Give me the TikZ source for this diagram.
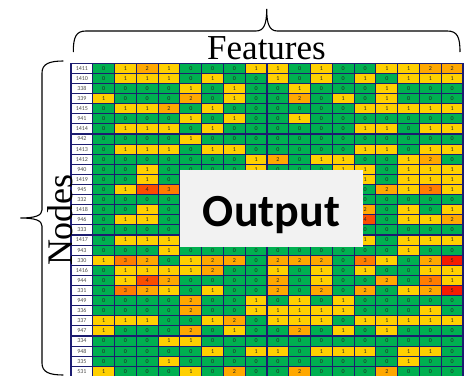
\documentclass[tikz,border=0pt]{standalone}
\usepackage{fontspec}
\setmainfont{Liberation Serif}
\newfontfamily\calibri{Carlito}
% heat-map palette for the cell values 0..5
\definecolor{cv0}{RGB}{0,176,80}
\definecolor{cv1}{RGB}{255,208,0}
\definecolor{cv2}{RGB}{255,168,0}
\definecolor{cv3}{RGB}{255,125,0}
\definecolor{cv4}{RGB}{250,78,0}
\definecolor{cv5}{RGB}{245,28,0}
\definecolor{gridnavy}{RGB}{28,28,112}
\definecolor{outbg}{RGB}{242,242,242}
\begin{document}
\begin{tikzpicture}[x=1pt,y=-1pt,
  cell/.style={draw=gridnavy,line width=1.1pt,minimum width=21.78pt,
    minimum height=10.1pt,inner sep=0pt,
    font=\calibri\fontsize{6}{6}\selectfont,text=black!85},
  idcell/.style={cell,fill=white,text=black!70},
  bracepath/.style={draw=black,line width=1.1pt},
  bigserif/.style={font=\fontsize{35}{40}\selectfont}
]
\useasboundingbox (0,0) rectangle (471,375);

% table: node id followed by 17 feature values
\foreach \lab/\vals [count=\i from 0] in {
  1411/{0,1,2,1,0,0,0,1,1,0,1,0,0,1,1,2,2},
  1410/{0,1,1,1,0,1,0,0,1,0,1,0,1,0,1,1,1},
  338/{0,0,0,0,1,0,1,0,0,1,0,0,0,1,0,0,0},
  339/{1,0,0,0,2,0,1,0,0,2,0,1,0,1,0,0,0},
  1415/{0,1,1,2,0,1,0,0,0,0,0,0,1,1,1,1,1},
  941/{0,0,0,0,1,0,1,0,0,1,0,0,0,0,0,0,0},
  1414/{0,1,1,1,0,1,0,0,0,0,0,0,1,1,0,1,1},
  942/{0,0,0,0,1,0,0,0,0,0,0,0,0,0,0,0,0},
  1413/{0,1,1,1,0,1,1,0,0,0,0,0,1,1,0,1,1},
  1412/{0,0,0,0,0,0,0,1,2,0,1,1,0,0,1,2,0},
  940/{0,0,1,0,0,0,0,1,0,0,0,1,1,0,1,1,1},
  1419/{0,0,1,0,0,0,0,0,0,0,0,0,1,0,1,1,1},
  945/{0,1,4,3,0,0,0,0,0,0,0,0,0,2,1,3,1},
  332/{0,0,0,0,0,0,0,0,0,0,0,0,0,0,0,0,0},
  1418/{0,0,1,0,0,0,0,0,0,0,0,0,2,0,1,0,1},
  946/{0,1,1,0,0,0,0,0,0,0,0,0,4,0,1,1,2},
  333/{0,0,0,0,0,0,0,0,0,0,0,0,0,0,0,0,0},
  1417/{0,1,1,1,0,0,0,0,0,0,0,0,1,0,1,1,1},
  943/{0,0,0,1,0,0,0,0,0,0,0,0,0,0,1,0,0},
  330/{1,3,2,0,1,2,2,0,2,2,2,0,3,1,0,2,5},
  1416/{0,1,1,1,1,2,0,0,1,0,1,0,1,0,0,1,1},
  944/{0,1,4,2,0,0,0,0,2,0,1,0,0,2,0,3,1},
  331/{0,3,2,1,0,1,0,0,2,0,2,0,2,0,1,2,5},
  949/{0,0,0,0,2,0,0,1,0,1,0,1,0,0,0,0,0},
  336/{0,0,0,0,2,0,0,1,1,1,1,1,0,0,0,1,0},
  337/{1,1,1,0,0,1,2,0,1,1,1,0,1,1,1,1,1},
  947/{1,0,0,0,2,0,1,0,0,2,0,1,0,1,0,0,0},
  334/{0,0,0,1,1,0,0,0,0,0,0,0,0,0,0,0,0},
  948/{0,0,0,0,0,1,0,1,1,0,1,1,1,0,1,1,0},
  335/{0,0,0,1,0,0,0,0,0,0,0,0,0,0,1,0,0},
  531/{1,0,0,0,1,0,2,0,0,2,0,0,0,2,0,0,0}} {
  \pgfmathsetmacro\yc{68.3+\i*10.1}
  \node[idcell] (id\i) at (81.89,\yc) {\lab};
  \foreach \v [count=\j] in \vals {
    % cells lying wholly under the output panel carry no digit
    \pgfmathtruncatemacro\hid{and(and(\i>10,\i<18),and(\j>4,\j<13))}
    \ifnum\hid=1
      \node[cell,fill=cv\v] (c\i-\j) at ({71+(\j+0.5)*21.78},\yc) {};
    \else
      \node[cell,fill=cv\v] (c\i-\j) at ({71+(\j+0.5)*21.78},\yc) {\v};
    \fi
  }
}

% output panel laid over the table
\fill[outbg] (180,170) rectangle (363,247);
\node[font=\calibri\bfseries\fontsize{46}{50}\selectfont,anchor=base,inner sep=0pt]
  (output) at (271.5,226) {Output};

% brace over the feature columns
\path[bracepath] (73.3,52) .. controls (73.3,37) and (76,31) .. (86,31)
  -- (256,31) .. controls (264,31) and (266.7,24) .. (266.7,9)
  .. controls (266.7,24) and (269.4,31) .. (277.4,31)
  -- (447.3,31) .. controls (457.3,31) and (460,37) .. (460,52);
\node[bigserif,anchor=base,inner sep=0pt] (features) at (266.5,59.3) {Features};

% brace beside the node rows
\path[bracepath] (63.3,61) .. controls (49,61) and (42,64) .. (42,73)
  -- (42,210) .. controls (42,215.5) and (35,218) .. (20.5,218)
  .. controls (35,218) and (42,220.5) .. (42,226)
  -- (42,363) .. controls (42,372) and (49,375) .. (63.3,375);
\node[font=\fontsize{36}{40}\selectfont,rotate=90,anchor=base,inner sep=0pt]
  (nodes) at (72,220) {Nodes};
\end{tikzpicture}
\end{document}
